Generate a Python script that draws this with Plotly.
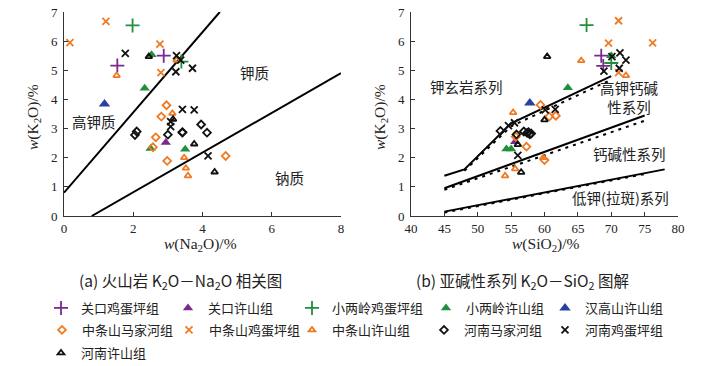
import plotly.graph_objects as go

# ---------------- data ----------------
# (a) Na2O vs K2O ; (b) SiO2 vs K2O
gk_jdp_na = [1.54, 2.88]; gk_jdp_k = [5.16, 5.50]
gk_jdp_si = [68.8, 68.5]; gk_jdp_k2 = [5.15, 5.50]

gk_xs_na = [2.94]; gk_xs_k = [2.52]
gk_xs_si = [55.6]; gk_xs_k2 = [2.55]

xll_jdp_na = [1.98, 3.39]; xll_jdp_k = [6.54, 5.30]
xll_jdp_si = [66.3, 70.0]; xll_jdp_k2 = [6.55, 5.25]

xll_xs_na = [2.53, 2.33, 2.50, 3.50]; xll_xs_k = [5.53, 4.38, 2.32, 2.29]
xll_xs_si = [70.0, 63.5, 54.3, 55.0]; xll_xs_k2 = [5.50, 4.40, 2.30, 2.30]

hgs_xs_na = [1.17]; hgs_xs_k = [3.84]
hgs_xs_si = [57.8]; hgs_xs_k2 = [3.88]

zts_mjh_na = [2.96, 2.81, 2.65, 2.57, 2.98, 4.67]; zts_mjh_k = [3.80, 3.41, 2.70, 2.36, 1.89, 2.06]
zts_mjh_si = [59.4, 60.7, 61.7, 55.7, 57.3, 60.0]; zts_mjh_k2 = [3.81, 3.41, 3.44, 2.72, 2.38, 1.92]

zts_jdp_na = [0.17, 1.21, 2.77, 2.80]; zts_jdp_k = [5.95, 6.68, 5.90, 4.92]
zts_jdp_si = [71.1, 69.6, 76.2, 71.1]; zts_jdp_k2 = [6.70, 5.93, 5.94, 4.92]

zts_xs_na = [1.52, 3.25, 3.13, 3.47, 3.52, 3.58]; zts_xs_k = [4.82, 5.35, 3.52, 2.00, 1.64, 1.38]
zts_xs_si = [65.5, 72.2, 55.3, 59.8, 55.6, 54.1]; zts_xs_k2 = [5.33, 4.82, 3.55, 2.00, 1.62, 1.38]

hn_mjh_na = [2.05, 2.10, 3.00, 3.42, 3.42, 3.96, 4.13]; hn_mjh_k = [2.78, 2.90, 2.79, 2.86, 2.88, 3.14, 2.86]
hn_mjh_si = [53.4, 55.8, 56.9, 57.4, 57.8, 58.0, 57.6]; hn_mjh_k2 = [2.92, 2.80, 2.90, 2.85, 2.80, 2.83, 2.88]

hn_jdp_na = [1.77, 3.25, 3.23, 3.37, 3.71, 3.42, 3.76, 3.08, 3.08, 4.16]
hn_jdp_k = [5.58, 5.50, 4.95, 5.35, 5.07, 3.66, 3.64, 3.24, 3.07, 2.06]
hn_jdp_si = [71.3, 72.2, 70.1, 71.2, 68.9, 60.1, 61.6, 54.6, 55.5, 56.0]
hn_jdp_k2 = [5.60, 5.35, 5.47, 5.07, 4.97, 3.64, 3.66, 3.10, 3.20, 2.08]

hn_xs_na = [2.45, 3.15, 3.76, 4.35]; hn_xs_k = [5.47, 3.32, 2.47, 1.51]
hn_xs_si = [60.4, 60.0, 56.0, 56.5]; hn_xs_k2 = [5.47, 3.30, 2.45, 1.50]

# boundary lines (a)
line_hk_na = [0.0, 4.5]; line_hk_k = [0.8, 7.0]
line_na_na = [0.8, 8.0]; line_na_k = [0.0, 4.9]
# boundary lines (b)
sho_si = [45, 48, 55, 70]; sho_k = [1.38, 1.60, 3.18, 4.80]
sho_d_si = [48, 55, 70]; sho_d_k = [1.55, 3.08, 4.68]
hkc_si = [45, 75]; hkc_k = [0.95, 3.45]
hkc_d_si = [45, 75]; hkc_d_k = [0.90, 3.27]
low_si = [45, 78]; low_k = [0.15, 1.60]
low_d_si = [45, 75]; low_d_k = [0.12, 1.44]

x1_ticks = [0, 2, 4, 6, 8]
x2_ticks = [40, 45, 50, 55, 60, 65, 70, 75, 80]
y_ticks = [0, 1, 2, 3, 4, 5, 6, 7]

ORANGE = "#F07A22"; GREEN = "#20903A"; PURPLE = "#7A2A8C"; BLUE = "#2840A0"; BLACK = "#111111"

groups = [
    ("关口鸡蛋坪组", gk_jdp_na, gk_jdp_k, gk_jdp_si, gk_jdp_k2, "cross-thin-open", PURPLE, 10),
    ("关口许山组", gk_xs_na, gk_xs_k, gk_xs_si, gk_xs_k2, "triangle-up", PURPLE, 9),
    ("小两岭鸡蛋坪组", xll_jdp_na, xll_jdp_k, xll_jdp_si, xll_jdp_k2, "cross-thin-open", GREEN, 10),
    ("小两岭许山组", xll_xs_na, xll_xs_k, xll_xs_si, xll_xs_k2, "triangle-up", GREEN, 9),
    ("汉高山许山组", hgs_xs_na, hgs_xs_k, hgs_xs_si, hgs_xs_k2, "triangle-up", BLUE, 10),
    ("中条山马家河组", zts_mjh_na, zts_mjh_k, zts_mjh_si, zts_mjh_k2, "diamond-open", ORANGE, 6),
    ("中条山鸡蛋坪组", zts_jdp_na, zts_jdp_k, zts_jdp_si, zts_jdp_k2, "x-thin-open", ORANGE, 7),
    ("中条山许山组", zts_xs_na, zts_xs_k, zts_xs_si, zts_xs_k2, "triangle-up-open", ORANGE, 6),
    ("河南马家河组", hn_mjh_na, hn_mjh_k, hn_mjh_si, hn_mjh_k2, "diamond-open", BLACK, 6),
    ("河南鸡蛋坪组", hn_jdp_na, hn_jdp_k, hn_jdp_si, hn_jdp_k2, "x-thin-open", BLACK, 7),
    ("河南许山组", hn_xs_na, hn_xs_k, hn_xs_si, hn_xs_k2, "triangle-up-open", BLACK, 6),
]

# legend slot positions (pixels): text start x, row y
legend_slots = [(78, 308), (205, 308), (329, 308), (463, 308), (582, 308),
                (79, 330), (206, 330), (329, 330), (461, 330), (582, 330),
                (78, 353)]

W, H = 701, 366
SERIF = "Liberation Serif, Noto Sans CJK SC"
CJK = "Noto Sans CJK SC, Liberation Serif"

fig = go.Figure()

for xs, ys in [(line_hk_na, line_hk_k), (line_na_na, line_na_k)]:
    fig.add_trace(go.Scatter(x=xs, y=ys, mode="lines", line=dict(color="black", width=2),
                             showlegend=False, hoverinfo="skip", xaxis="x", yaxis="y"))
for xs, ys in [(sho_si, sho_k), (hkc_si, hkc_k), (low_si, low_k)]:
    fig.add_trace(go.Scatter(x=xs, y=ys, mode="lines", line=dict(color="black", width=2),
                             showlegend=False, hoverinfo="skip", xaxis="x2", yaxis="y2"))
for xs, ys in [(sho_d_si, sho_d_k), (hkc_d_si, hkc_d_k), (low_d_si, low_d_k)]:
    fig.add_trace(go.Scatter(x=xs, y=ys, mode="lines", line=dict(color="black", width=2, dash="3px,5px"),
                             showlegend=False, hoverinfo="skip", xaxis="x2", yaxis="y2"))

for i, (name, na, k, si, k2, sym, col, sz) in enumerate(groups):
    lw = 1.8 if ("thin" in sym or "open" in sym) else 0
    mk = dict(symbol=sym, color=col, size=sz, line=dict(color=col, width=lw))
    lg = "legend" if i == 0 else f"legend{i+1}"
    fig.add_trace(go.Scatter(x=na, y=k, mode="markers", marker=mk, name=name,
                             legend=lg, xaxis="x", yaxis="y"))
    fig.add_trace(go.Scatter(x=si, y=k2, mode="markers", marker=mk, name=name,
                             showlegend=False, xaxis="x2", yaxis="y2"))

axis_common = dict(showline=True, linecolor="#333", linewidth=1, showgrid=False, zeroline=False,
                   ticks="inside", ticklen=4, tickcolor="#333", automargin=False,
                   tickfont=dict(family=SERIF, size=13, color="#222"))

layout = dict(
    template="none",
    width=W, height=H, margin=dict(l=0, r=0, t=0, b=0, autoexpand=False),
    paper_bgcolor="white", plot_bgcolor="white",
    xaxis=dict(domain=[64 / W, 341 / W], range=[0, 8], tickvals=x1_ticks, anchor="y", **axis_common),
    yaxis=dict(domain=[1 - 216 / H, 1 - 12 / H], range=[0, 7], tickvals=y_ticks, anchor="x",
               ticklabelstandoff=3, **axis_common),
    xaxis2=dict(domain=[411 / W, 678 / W], range=[40, 80], tickvals=x2_ticks, anchor="y2", **axis_common),
    yaxis2=dict(domain=[1 - 216 / H, 1 - 12 / H], range=[0, 7], tickvals=y_ticks, anchor="x2",
                ticklabelstandoff=3, **axis_common),
)

for i, (tx, ty) in enumerate(legend_slots):
    key = "legend" if i == 0 else f"legend{i+1}"
    layout[key] = dict(x=(tx - 37) / W, y=1 - ty / H, xanchor="left", yanchor="middle",
                       xref="container", yref="container",
                       bgcolor="rgba(0,0,0,0)", borderwidth=0,
                       font=dict(family=CJK, size=13, color="#222"),
                       itemsizing="trace")

fig.update_layout(**layout)

ann = []
def txt(x, y, s, xref, yref, size=14, angle=0, fam=CJK):
    ann.append(dict(x=x, y=y, xref=xref, yref=yref, text=s, showarrow=False,
                    font=dict(family=fam, size=size, color="#222"),
                    textangle=angle, xanchor="center", yanchor="middle"))

txt(5.51, 4.94, "钾质", "x", "y", size=14.5)
txt(0.88, 3.23, "高钾质", "x", "y", size=14.5)
txt(6.5, 1.33, "钠质", "x", "y", size=14.5)
txt(48.3, 4.43, "钾玄岩系列", "x2", "y2", size=14.5)
txt(72.7, 4.07, "高钾钙碱<br>性系列", "x2", "y2", size=14.5)
txt(72.8, 2.13, "钙碱性系列", "x2", "y2", size=14.5)
txt(71.4, 0.65, "低钾(拉斑)系列", "x2", "y2", size=14.5)

txt(200 / W, 1 - 244 / H, "<i>w</i>(Na<sub>2</sub>O)/%", "paper", "paper", size=15.5, fam=SERIF)
txt(546 / W, 1 - 244 / H, "<i>w</i>(SiO<sub>2</sub>)/%", "paper", "paper", size=15.5, fam=SERIF)
txt(33 / W, 1 - 117 / H, "<i>w</i>(K<sub>2</sub>O)/%", "paper", "paper", size=15.5, angle=-90, fam=SERIF)
txt(380 / W, 1 - 117 / H, "<i>w</i>(K<sub>2</sub>O)/%", "paper", "paper", size=15.5, angle=-90, fam=SERIF)

txt(180 / W, 1 - 281 / H, "(a) 火山岩 K<sub>2</sub>O－Na<sub>2</sub>O 相关图", "paper", "paper", size=15.5)
txt(522 / W, 1 - 281 / H, "(b) 亚碱性系列 K<sub>2</sub>O－SiO<sub>2</sub> 图解", "paper", "paper", size=15.5)

fig.update_layout(annotations=ann)
fig.write_html("out.html", config={"displayModeBar": False},
               post_script="document.body.style.margin='0';document.body.style.padding='0';")
